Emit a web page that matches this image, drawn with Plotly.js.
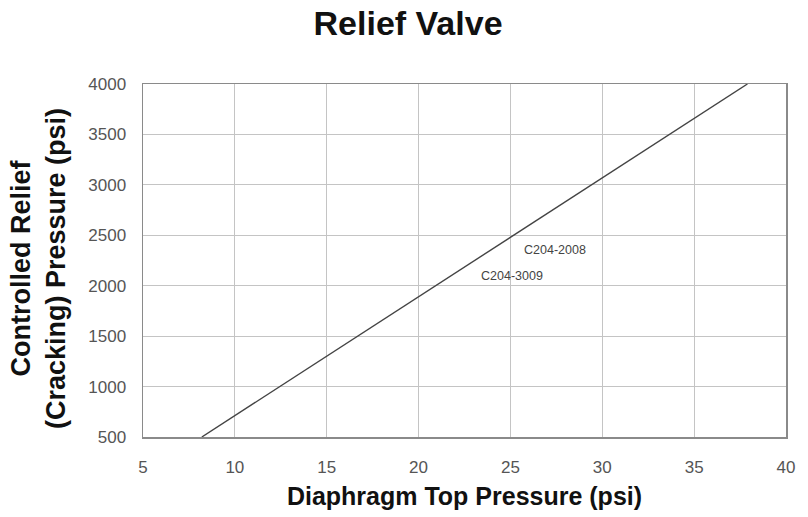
<!DOCTYPE html>
<html>
<head>
<meta charset="utf-8">
<script src="https://cdn.plot.ly/plotly-3.0.1.min.js"></script>
<style>html,body{margin:0;padding:0;background:#fff;}#chart{width:808px;height:517px;}</style>
</head>
<body>
<div id="chart"></div>
<script>
const diaphragmPressure = [8.2, 37.9];
const reliefPressure = [500, 4000];
const labelNames = ["C204-2008", "C204-3009"];
const labelX = [27.4, 25.1];
const labelY = [2350, 2100];
const xTicks = [5, 10, 15, 20, 25, 30, 35, 40];
const yTicks = [500, 1000, 1500, 2000, 2500, 3000, 3500, 4000];

const FONT = 'Liberation Sans, Arial, sans-serif';

const trace = {
  x: diaphragmPressure, y: reliefPressure, mode: 'lines', type: 'scatter',
  line: {color: '#444', width: 1.4}, hoverinfo: 'skip', showlegend: false
};

const annotations = labelNames.map((t, i) => ({
  x: labelX[i], y: labelY[i], xref: 'x', yref: 'y', text: t, showarrow: false,
  font: {family: FONT, size: 12.5, color: '#444'}
}));

annotations.push({
  xref: 'paper', yref: 'paper', x: (38 - 143) / 643, y: 1 - (269 - 84) / 353,
  xanchor: 'center', yanchor: 'middle', textangle: -90, showarrow: false,
  text: '<b>Controlled Relief<br>(Cracking) Pressure (psi)</b>',
  font: {family: FONT, size: 27, color: '#111'}
});

const layout = {
  width: 808, height: 517,
  margin: {l: 143, r: 22, t: 84, b: 80},
  paper_bgcolor: '#fff', plot_bgcolor: '#fff',
  title: {text: '<b>Relief Valve</b>', x: 0.505, xanchor: 'center', y: 0.955, yanchor: 'middle',
          font: {family: FONT, size: 34, color: '#111'}},
  xaxis: {
    range: [5, 40], tickvals: xTicks, ticktext: xTicks.map(String), showgrid: true,
    gridcolor: '#c4c4c4', gridwidth: 1, zeroline: false, showline: true, mirror: true,
    linecolor: '#8a8a8a', linewidth: 1.5, ticks: 'outside', ticklen: 14, tickcolor: 'rgba(0,0,0,0)',
    tickfont: {family: FONT, size: 17, color: '#555'},
    title: {text: '<b>Diaphragm Top Pressure (psi)</b>', standoff: 11,
            font: {family: FONT, size: 25, color: '#111'}}
  },
  yaxis: {
    range: [500, 4000], tickvals: yTicks, ticktext: yTicks.map(String), showgrid: true,
    gridcolor: '#c4c4c4', gridwidth: 1, zeroline: false, showline: true, mirror: true,
    linecolor: '#8a8a8a', linewidth: 1.5, ticks: 'outside', ticklen: 12, tickcolor: 'rgba(0,0,0,0)',
    tickfont: {family: FONT, size: 17, color: '#555'}
  },
  annotations: annotations
};

Plotly.newPlot('chart', [trace], layout, {displayModeBar: false, staticPlot: true});
</script>
</body>
</html>
